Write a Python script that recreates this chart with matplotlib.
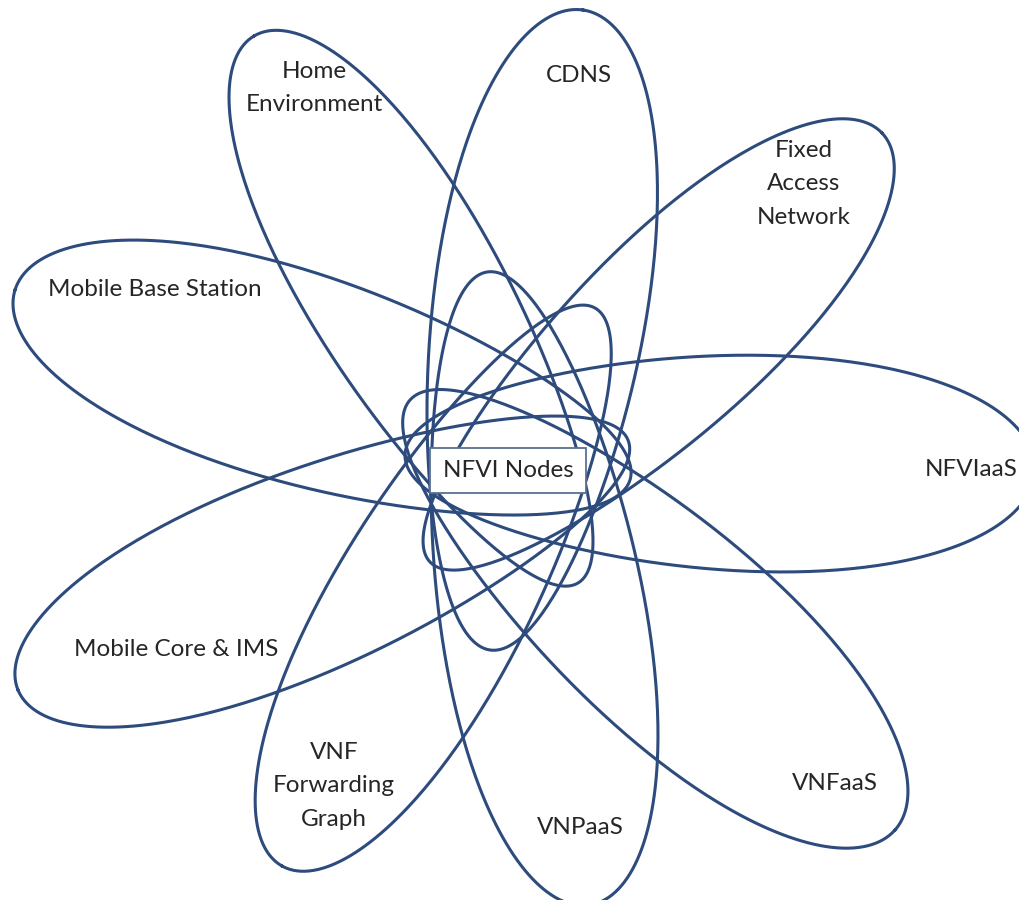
import numpy as np
import matplotlib
matplotlib.use("Agg")
import matplotlib.pyplot as plt
from matplotlib.patches import Rectangle

LINE_COLOR = "#2d4b7c"
TEXT_COLOR = "#262626"

# petals: outer tip, inner tip (pixel coords, y down), half width
petal_names = ["Home Environment", "CDNS", "Fixed Access Network", "Mobile Base Station",
               "NFVIaaS", "Mobile Core & IMS", "VNF Forwarding Graph", "VNPaaS", "VNFaaS"]
outer_tips = [(254, 36), (583, 10), (882, 133), (15, 290),
              (1035, 470), (18, 690), (282, 866), (590, 905), (895, 830)]
inner_tips = [(578, 583), (490, 650), (430, 562), (630, 480),
              (405, 455), (628, 440), (595, 308), (487, 272), (410, 400)]
half_widths = [96, 106, 96, 104, 107, 100, 97, 102, 106]
EGG = 0.15  # outer end fatter than inner end

# label text and where it sits
labels = ["Home\nEnvironment", "CDNS", "Fixed\nAccess\nNetwork", "Mobile Base Station",
          "NFVIaaS", "Mobile Core & IMS", "VNF\nForwarding\nGraph", "VNPaaS", "VNFaaS"]
label_pos = [(314, 88), (579, 75), (804, 184), (155, 289),
             (971, 470), (176, 650), (334, 786), (580, 828), (835, 783)]

hub_label = "NFVI Nodes"
hub_box = (430, 448, 156, 45)  # x, y, w, h


def egg(p_out, p_in, hw, k=EGG, n=400):
    x0, y0 = p_out
    x1, y1 = p_in
    a = np.hypot(x1 - x0, y1 - y0) / 2
    cx, cy = (x0 + x1) / 2, (y0 + y1) / 2
    ux, uy = (x0 - cx) / a, (y0 - cy) / a  # unit vector toward outer tip
    t = np.linspace(0, 2 * np.pi, n)
    u = a * np.cos(t)
    v = hw * np.sin(t) * (1 + k * np.cos(t))
    xs = cx + u * ux - v * uy
    ys = cy + u * uy + v * ux
    return xs, ys


fig = plt.figure(figsize=(10.19, 9.0), dpi=100)
ax = fig.add_axes([0, 0, 1, 1])
ax.set_xlim(0, 1019)
ax.set_ylim(900, 0)
ax.set_aspect("equal")
ax.axis("off")

for p_out, p_in, hw in zip(outer_tips, inner_tips, half_widths):
    xs, ys = egg(p_out, p_in, hw)
    ax.plot(xs, ys, color=LINE_COLOR, linewidth=2.2, solid_joinstyle="round")

for txt, (x, y) in zip(labels, label_pos):
    ax.text(x, y, txt, ha="center", va="center", fontsize=17.5, family="Lato",
            color=TEXT_COLOR, linespacing=1.75)

bx, by, bw, bh = hub_box
ax.add_patch(Rectangle((bx, by), bw, bh, fill=True, facecolor="white",
                       edgecolor="#5b6f90", linewidth=1.3, zorder=3))
ax.text(bx + bw / 2, by + bh / 2, hub_label, ha="center", va="center", fontsize=17.5,
        family="Lato", color=TEXT_COLOR, zorder=4)

fig.savefig("out.png", dpi=100)
